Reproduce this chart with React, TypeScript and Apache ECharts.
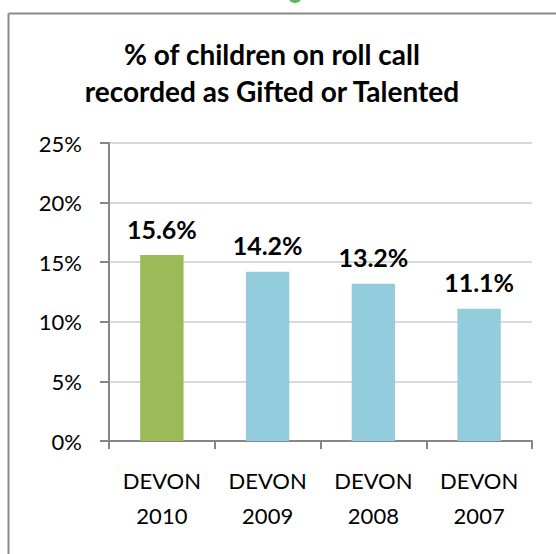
import React, { useEffect, useRef } from "react";
import * as echarts from "echarts";

// Share of children on the roll call recorded as Gifted or Talented, per year
const categories = ["DEVON\n2010", "DEVON\n2009", "DEVON\n2008", "DEVON\n2007"];
const percentages = [15.6, 14.2, 13.2, 11.1];
const barColors = ["#9BBB59", "#93CDDD", "#93CDDD", "#93CDDD"];
const yTicks = { min: 0, max: 25, interval: 5 };

const FONT = "Lato, 'Open Sans', sans-serif";

export default function App() {
  const ref = useRef<HTMLDivElement>(null);

  useEffect(() => {
    if (!ref.current) return;
    const chart = echarts.init(ref.current, null, { renderer: "svg" });
    chart.setOption({
      animation: false,
      backgroundColor: "#ffffff",
      textStyle: { fontFamily: FONT },
      title: {
        text: "% of children on roll call\nrecorded as Gifted or Talented",
        left: 267,
        top: 30,
        textAlign: "center",
        textStyle: {
          fontFamily: FONT,
          fontSize: 28,
          fontWeight: "bold",
          color: "#000000",
          lineHeight: 37,
        },
      },
      graphic: [
        {
          type: "line",
          shape: { x1: 8.5, y1: 13.5, x2: 556, y2: 13.5 },
          style: { stroke: "#8a8a8a", lineWidth: 2 },
        },
        {
          type: "line",
          shape: { x1: 8.5, y1: 13.5, x2: 8.5, y2: 554 },
          style: { stroke: "#8a8a8a", lineWidth: 2 },
        },
        {
          type: "circle",
          shape: { cx: 295, cy: -4, r: 7 },
          style: { fill: "#5cb85c" },
        },
      ],
      grid: { left: 109, right: 24, top: 143, bottom: 113, containLabel: false },
      xAxis: {
        type: "category",
        data: categories,
        axisLine: { lineStyle: { color: "#868686", width: 2 } },
        axisTick: { show: true, length: 8, lineStyle: { color: "#868686", width: 2 } },
        axisLabel: {
          fontFamily: FONT,
          fontSize: 22,
          lineHeight: 35,
          color: "#000000",
          margin: 22,
        },
      },
      yAxis: {
        type: "value",
        min: yTicks.min,
        max: yTicks.max,
        interval: yTicks.interval,
        axisLine: { show: true, lineStyle: { color: "#868686", width: 2 } },
        axisTick: { show: true, length: 9, lineStyle: { color: "#868686", width: 2 } },
        axisLabel: {
          fontFamily: FONT,
          fontSize: 22,
          color: "#000000",
          margin: 27,
          formatter: "{value}%",
        },
        splitLine: { lineStyle: { color: "#d9d9d9", width: 2 } },
      },
      series: [
        {
          type: "bar",
          barWidth: "41%",
          data: percentages.map((v, i) => ({
            value: v,
            itemStyle: { color: barColors[i] },
          })),
          label: {
            show: true,
            position: "top",
            distance: 14,
            fontFamily: FONT,
            fontSize: 25,
            fontWeight: "bold",
            color: "#000000",
            formatter: (p: any) => `${p.value.toFixed(1)}%`,
          },
        },
      ],
    });
    return () => chart.dispose();
  }, []);

  return (
    <div
      ref={ref}
      style={{ position: "fixed", left: 0, top: 0, width: 556, height: 554 }}
    />
  );
}
